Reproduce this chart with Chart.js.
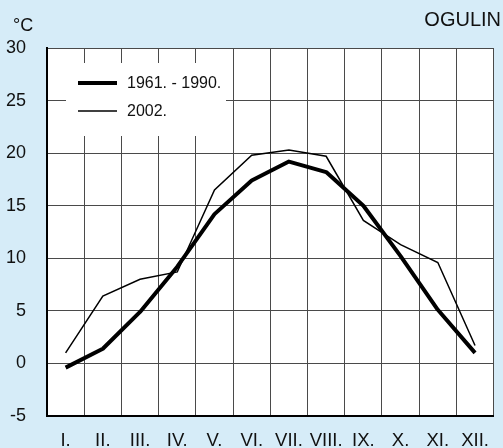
<!DOCTYPE html>
<html>
<head>
<meta charset="utf-8">
<script src="https://cdn.jsdelivr.net/npm/chart.js@4/dist/chart.umd.min.js"></script>
<style>
    html, body { margin: 0; padding: 0; background: #d6ecf8; }
    #wrap { width: 503px; height: 448px; }
</style>
</head>
<body>
<div id="wrap"><canvas id="chart" width="503" height="448"></canvas></div>
<script>
// monthly mean air temperature, Ogulin
const months = ['I.', 'II.', 'III.', 'IV.', 'V.', 'VI.', 'VII.', 'VIII.', 'IX.', 'X.', 'XI.', 'XII.'];
const normal6190 = [-0.4, 1.4, 4.9, 9.2, 14.2, 17.4, 19.2, 18.2, 15.0, 10.2, 5.1, 1.0];
const year2002 = [1.0, 6.4, 8.0, 8.7, 16.5, 19.8, 20.3, 19.7, 13.6, 11.3, 9.6, 1.7];
const seriesNames = ['1961. - 1990.', '2002.'];
const yTicks = { min: -5, max: 30, step: 5 };

const FONT = '"Liberation Sans", Arial, sans-serif';
const BG = '#d6ecf8';
const GRID = '#4a4a4a';

// background + white plot area, then a boxed legend over the grid
const decorPlugin = {
    id: 'decor',
    beforeDraw(chart) {
        const ctx = chart.ctx;
        const a = chart.chartArea;
        ctx.save();
        ctx.fillStyle = BG;
        ctx.fillRect(0, 0, chart.width, chart.height);
        ctx.fillStyle = '#ffffff';
        ctx.fillRect(a.left, a.top, a.right - a.left, a.bottom - a.top);
        ctx.fillStyle = '#111';
        ctx.font = '18px ' + FONT;
        ctx.textAlign = 'left';
        ctx.textBaseline = 'middle';
        ctx.fillText('°C', 13, 26);
        ctx.restore();
    },
    beforeDatasetsDraw(chart) {
        const ctx = chart.ctx;
        const a = chart.chartArea;
        const x0 = a.left + 19;
        const y0 = a.top + 15;
        ctx.save();
        ctx.fillStyle = '#ffffff';
        ctx.fillRect(x0, y0, 160, 73);
        chart.data.datasets.forEach((ds, i) => {
            const y = y0 + 20 + i * 28;
            ctx.strokeStyle = ds.borderColor;
            ctx.lineWidth = ds.borderWidth;
            ctx.beginPath();
            ctx.moveTo(x0 + 12, y);
            ctx.lineTo(x0 + 51, y);
            ctx.stroke();
            ctx.fillStyle = '#111';
            ctx.font = '16px ' + FONT;
            ctx.textAlign = 'left';
            ctx.textBaseline = 'middle';
            ctx.fillText(ds.label, x0 + 61, y + 1);
        });
        ctx.restore();
    }
};

new Chart(document.getElementById('chart'), {
    type: 'line',
    data: {
        labels: months,
        datasets: [
            {
                label: seriesNames[0],
                data: normal6190,
                borderColor: '#000',
                borderWidth: 4,
                pointRadius: 0,
                tension: 0,
                borderJoinStyle: 'round'
            },
            {
                label: seriesNames[1],
                data: year2002,
                borderColor: '#000',
                borderWidth: 1.5,
                pointRadius: 0,
                tension: 0
            }
        ]
    },
    options: {
        responsive: false,
        animation: false,
        devicePixelRatio: 1,
        layout: { autoPadding: false, padding: { left: 0, right: 2, top: 0, bottom: 0 } },
        plugins: {
            legend: { display: false },
            tooltip: { enabled: false },
            title: {
                display: true,
                text: 'OGULIN',
                align: 'end',
                color: '#111',
                font: { family: FONT, size: 20, weight: 'normal', lineHeight: 1.2 },
                padding: { top: 8, bottom: 16 }
            }
        },
        scales: {
            x: {
                offset: true,
                grid: { offset: true, color: GRID, lineWidth: 1, drawTicks: false },
                border: { color: '#000', width: 2 },
                ticks: {
                    color: '#111',
                    font: { family: FONT, size: 18.5 },
                    padding: 14,
                    maxRotation: 0,
                    autoSkip: false
                },
                afterFit(scale) { scale.height = 32; }
            },
            y: {
                min: yTicks.min,
                max: yTicks.max,
                grid: { color: GRID, lineWidth: 1, drawTicks: false },
                border: { color: '#000', width: 2 },
                ticks: {
                    stepSize: yTicks.step,
                    color: '#111',
                    font: { family: FONT, size: 18 },
                    padding: 21
                },
                afterFit(scale) { scale.width = 47; }
            }
        }
    },
    plugins: [decorPlugin]
});
</script>
</body>
</html>
